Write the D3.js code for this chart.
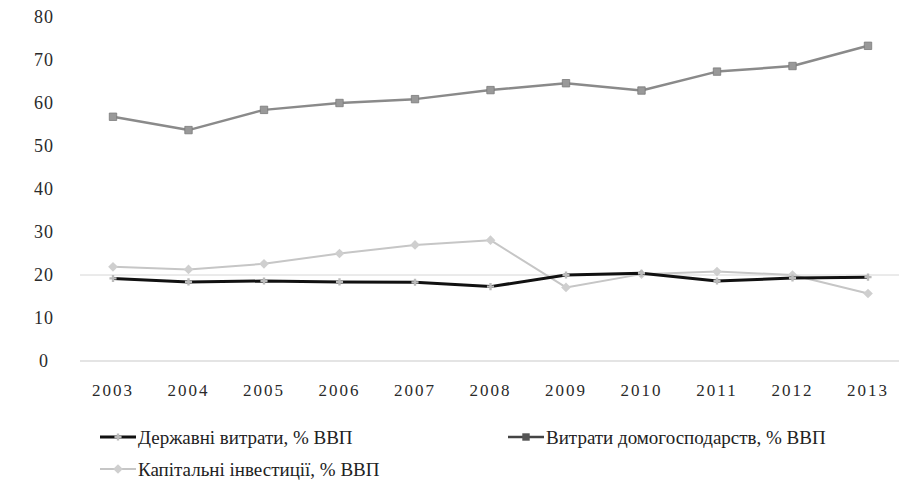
<html>
<head>
<meta charset="utf-8">
<script src="https://d3js.org/d3.v7.min.js"></script>
</head>
<body style="margin:0">
<div id="chart"></div>
<script type="text/javascript">
// data
var years = ["2003", "2004", "2005", "2006", "2007", "2008", "2009", "2010", "2011", "2012", "2013"];
var govSpending = [19.2, 18.4, 18.6, 18.4, 18.3, 17.3, 20.0, 20.4, 18.6, 19.3, 19.5];
var householdSpending = [56.8, 53.7, 58.4, 60.0, 60.9, 63.0, 64.6, 62.9, 67.3, 68.6, 73.3];
var capitalInvestment = [21.9, 21.3, 22.6, 25.0, 27.0, 28.1, 17.1, 20.2, 20.8, 20.0, 15.7];
var yTicks = [0, 10, 20, 30, 40, 50, 60, 70, 80];
var gridValues = [0, 20];
var seriesNames = ["Державні витрати, % ВВП", "Витрати домогосподарств, % ВВП", "Капітальні інвестиції, % ВВП"];

var w = 899, h = 493;
function serifFont() { return "'Liberation Serif'"; }

var svg = d3.select("#chart").append("svg")
    .attr("width", w)
    .attr("height", h);

// scales
var x = d3.scalePoint().domain(years).range([113, 868]);
var y = d3.scaleLinear().domain([0, 80]).range([361, 17]);

// faint gridlines (only the baseline and the 20 line survive in the scan)
svg.selectAll("line.grid")
    .data(gridValues)
    .enter()
    .append("line")
    .attr("class", "grid")
    .attr("x1", 80)
    .attr("x2", w)
    .attr("y1", function(d) { return y(d); })
    .attr("y2", function(d) { return y(d); })
    .attr("stroke", function(d) { return d == 0 ? "#c9c9c9" : "#d6d6d6"; })
    .attr("stroke-width", 1);

// y axis labels, written as plain text from the scale
svg.selectAll("text.ytick")
    .data(yTicks)
    .enter()
    .append("text")
    .attr("class", "ytick")
    .attr("x", 44)
    .attr("y", function(d) { return y(d); })
    .attr("dy", "0.35em")
    .attr("text-anchor", "middle")
    .style("font-family", serifFont)
    .style("font-size", "18px")
    .style("letter-spacing", "1px")
    .style("fill", "#2a2a2a")
    .text(function(d) { return d; });

// x axis labels
svg.selectAll("text.xtick")
    .data(years)
    .enter()
    .append("text")
    .attr("class", "xtick")
    .attr("x", function(d) { return x(d); })
    .attr("y", y(0) + 29)
    .attr("dy", "0.35em")
    .attr("text-anchor", "middle")
    .style("font-family", serifFont)
    .style("font-size", "17px")
    .style("letter-spacing", "2px")
    .style("fill", "#2a2a2a")
    .text(function(d) { return d; });

var series = [
    { name: seriesNames[0], values: govSpending, color: "#111", width: 3, marker: "cross", mcolor: "#bbb" },
    { name: seriesNames[1], values: householdSpending, color: "#8a8a8a", width: 2.5, marker: "square", mcolor: "#999" },
    { name: seriesNames[2], values: capitalInvestment, color: "#c6c6c6", width: 2, marker: "diamond", mcolor: "#cfcfcf" }
];

var line = d3.line()
    .x(function(d, i) { return x(years[i]); })
    .y(function(d) { return y(d); });

function symbolFor(m) {
    if (m == "square") return d3.symbol().type(d3.symbolSquare).size(55);
    if (m == "diamond") return d3.symbol().type(d3.symbolDiamond2).size(60);
    return d3.symbol().type(d3.symbolCross).size(28);
}

// draw investment first, government on top
var drawOrder = [series[2], series[1], series[0]];
drawOrder.forEach(function(s) {
    var g = svg.append("g");
    g.append("path")
        .attr("fill", "none")
        .attr("stroke", s.color)
        .attr("stroke-width", s.width)
        .attr("stroke-linejoin", "round")
        .attr("d", line(s.values));
    g.selectAll("path.mark")
        .data(s.values)
        .enter()
        .append("path")
        .attr("class", "mark")
        .attr("transform", function(d, i) { return "translate(" + x(years[i]) + "," + y(d) + ")"; })
        .attr("d", symbolFor(s.marker)())
        .attr("fill", s.mcolor)
        .attr("stroke", s.marker == "square" ? "#7a7a7a" : "none")
        .attr("stroke-width", 0.8);
});

// legend
var legendPos = [[100, 437], [508, 437], [100, 469]];
series.forEach(function(s, i) {
    var lg = svg.append("g").attr("transform", "translate(" + legendPos[i][0] + "," + legendPos[i][1] + ")");
    lg.append("line")
        .attr("x1", 0).attr("x2", 36)
        .attr("y1", 0).attr("y2", 0)
        .attr("stroke", i == 1 ? "#444" : s.color)
        .attr("stroke-width", s.width);
    lg.append("path")
        .attr("transform", "translate(18,0)")
        .attr("d", symbolFor(s.marker)())
        .attr("fill", i == 1 ? "#555" : s.mcolor);
    lg.append("text")
        .attr("x", 38)
        .attr("y", 0)
        .attr("dy", "0.35em")
        .style("font-family", serifFont)
        .style("font-size", "19px")
        .style("fill", "#222")
        .text(s.name);
});
</script>
</body>
</html>
